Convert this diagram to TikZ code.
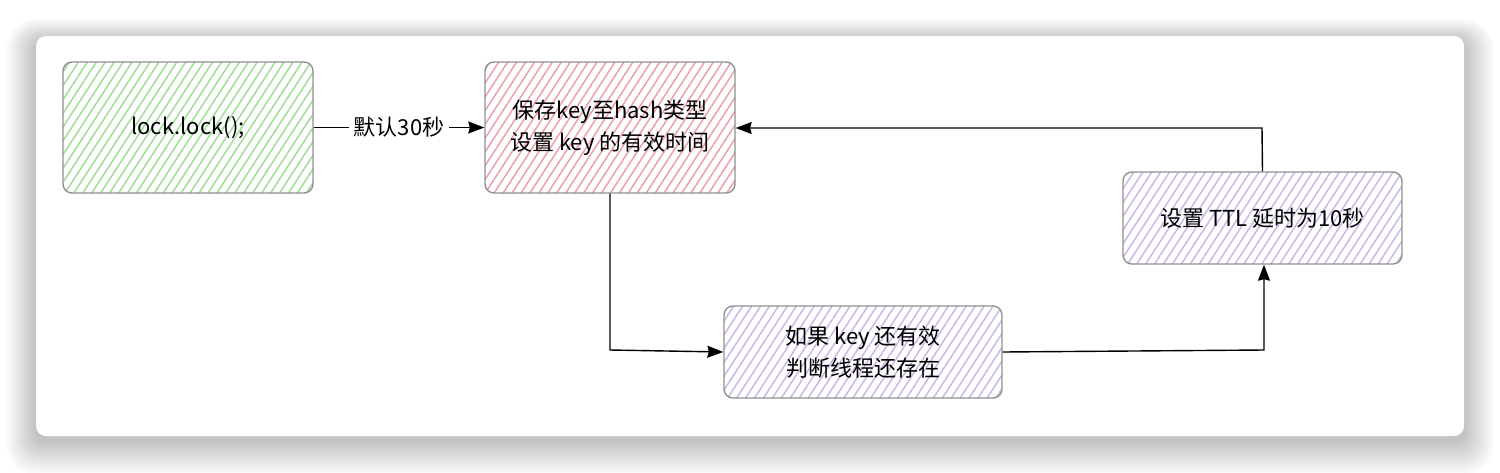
\documentclass[tikz,border=0pt]{standalone}
\usepackage{fontspec}
\setmainfont{Noto Sans CJK SC}
\usetikzlibrary{patterns.meta,arrows.meta}
\definecolor{hgreen}{RGB}{160,222,150}
\definecolor{hpink}{RGB}{236,160,172}
\definecolor{hpurple}{RGB}{204,182,236}
\definecolor{bordergrey}{RGB}{145,145,145}
\tikzset{
  box/.style={draw=bordergrey,line width=1.4pt,rounded corners=9pt,align=center,
    font=\fontsize{22}{32}\selectfont,inner sep=0pt},
  hatch/.style={pattern={Lines[angle=57,distance=7.5pt,line width=1.5pt]},pattern color=#1},
  conn/.style={line width=1.4pt,-{Stealth[length=16pt,width=12pt,inset=1.5pt]}},
  lbl/.style={fill=white,font=\fontsize{22}{24}\selectfont,inner sep=5pt}
}
\begin{document}
\begin{tikzpicture}[x=1pt,y=-1pt]
\useasboundingbox (0,0) rectangle (1500,472);
\fill[white] (0,0) rectangle (1500,472);
% shadow
\foreach \i in {1,...,20}{
  \fill[black,opacity=0.011,rounded corners=10pt+\i pt]
    (36-\i*1.5,36-\i*1.1+5) rectangle (1464+\i*1.5,436+\i*1.7+5);
}
\fill[white,rounded corners=10pt] (36,36) rectangle (1464,436);
% boxes
\path[hatch=hgreen] [rounded corners=9pt] (63,62) rectangle (313,193);
\node[box,minimum width=250pt,minimum height=131pt] (lock) at (188,127.5) {lock.lock();};
\path[hatch=hpink] [rounded corners=9pt] (485,62) rectangle (735,193);
\node[box,minimum width=250pt,minimum height=131pt] (save) at (610,127.5) {保存key至hash类型\\设置 key 的有效时间};
\path[hatch=hpurple] [rounded corners=9pt] (724,306) rectangle (1002,398);
\node[box,minimum width=278pt,minimum height=92pt] (check) at (863,352) {如果 key 还有效\\判断线程还存在};
\path[hatch=hpurple] [rounded corners=9pt] (1123,172) rectangle (1402,264);
\node[box,minimum width=279pt,minimum height=92pt] (ttl) at (1262.5,218) {设置 TTL 延时为10秒};
% connectors
\draw[conn] (lock.east) -- node[lbl] {默认30秒} (save.west);
\coordinate (c1) at (610,350);
\draw[conn] (save.south) -- (c1) -- (check.west);
\coordinate (c2) at (1264,350);
\draw[conn] (check.east) -- (c2) -- (ttl.south -| c2);
\coordinate (c3) at (1262,128);
\draw[conn] (ttl.north) -- (c3) -- (save.east |- c3);
\end{tikzpicture}
\end{document}
